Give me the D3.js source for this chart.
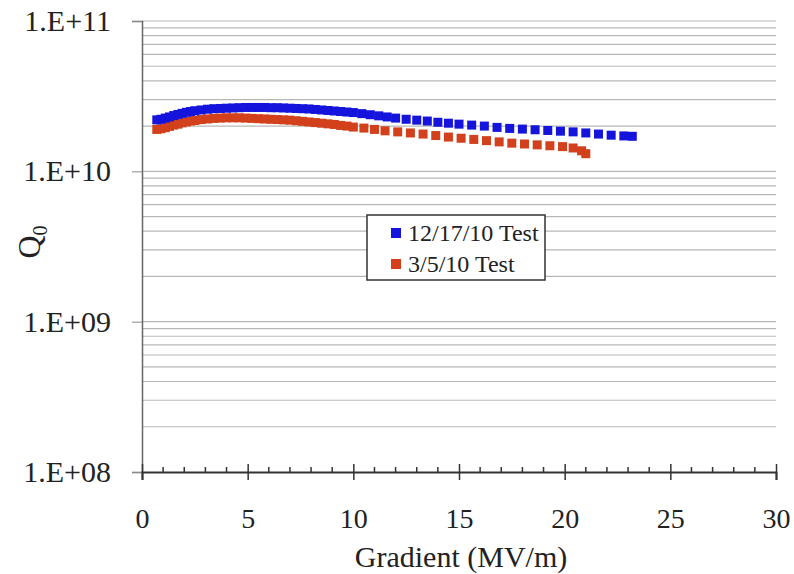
<!DOCTYPE html>
<html><head><meta charset="utf-8">
<script src="https://cdn.jsdelivr.net/npm/d3@7"></script>
<style>body{margin:0;background:#fff}svg text{font-family:"Liberation Serif","Tinos","Times New Roman","DejaVu Serif",serif !important}</style>
</head><body><svg id="c" width="794" height="574"></svg>
<script>
// Data (gradient MV/m, Q0 in units of 1E10)
const blueName = "12/17/10 Test";
const redName = "3/5/10 Test";
const blueX = [0.7,0.9,1.1,1.3,1.5,1.7,1.9,2.1,2.3,2.5,2.8,3.1,3.4,3.7,4.0,4.3,4.6,4.9,5.2,5.5,5.8,6.1,6.4,6.7,7.0,7.3,7.6,7.9,8.2,8.5,8.8,9.1,9.4,9.7,10.0,10.4,10.8,11.2,11.6,12.0,12.5,13.0,13.5,14.0,14.5,15.0,15.6,16.2,16.8,17.4,18.0,18.6,19.2,19.8,20.4,21.0,21.6,22.2,22.8,23.2];
const blueQ = [2.20,2.22,2.26,2.30,2.35,2.39,2.43,2.47,2.50,2.53,2.56,2.59,2.61,2.62,2.63,2.64,2.65,2.66,2.66,2.66,2.66,2.65,2.65,2.64,2.63,2.62,2.61,2.60,2.58,2.56,2.54,2.52,2.50,2.48,2.46,2.42,2.38,2.34,2.30,2.26,2.22,2.19,2.16,2.12,2.09,2.06,2.03,2.00,1.96,1.93,1.91,1.89,1.87,1.85,1.83,1.80,1.77,1.74,1.72,1.71];
const redX = [0.7,0.9,1.1,1.3,1.5,1.7,1.9,2.1,2.3,2.5,2.8,3.1,3.4,3.7,4.0,4.3,4.6,4.9,5.2,5.5,5.8,6.1,6.4,6.7,7.0,7.3,7.6,7.9,8.2,8.5,8.8,9.1,9.4,9.7,10.0,10.5,11.0,11.5,12.1,12.7,13.3,13.9,14.5,15.1,15.7,16.3,16.9,17.5,18.1,18.7,19.3,19.9,20.4,20.8,21.0];
const redQ = [1.90,1.92,1.95,1.99,2.03,2.06,2.10,2.13,2.16,2.18,2.21,2.23,2.25,2.26,2.27,2.27,2.27,2.26,2.25,2.24,2.23,2.22,2.21,2.20,2.19,2.17,2.15,2.13,2.11,2.09,2.07,2.05,2.02,2.00,1.97,1.94,1.90,1.86,1.83,1.80,1.77,1.73,1.69,1.66,1.63,1.60,1.57,1.54,1.52,1.50,1.48,1.46,1.43,1.37,1.31];
const xTicks = [0,5,10,15,20,25,30];
const yTicks = [1e8,1e9,1e10,1e11];
const yTickLabels = ["1.E+08","1.E+09","1.E+10","1.E+11"];

const FONT = '"Liberation Serif","Tinos","Times New Roman","DejaVu Serif",serif';
const svg = d3.select("#c");
const L = 142, R = 776, T = 21, B = 472;
const x = d3.scaleLinear().domain([0,30]).range([L,R]);
const y = d3.scaleLog().domain([1e8,1e11]).range([B,T]);

// minor + major gridlines
const grid = [];
for (let e = 8; e < 11; e++) for (let m = 1; m <= 9; m++) grid.push(m*Math.pow(10,e));
grid.push(1e11);
svg.append("g").selectAll("line").data(grid.filter(v=>v>1e8)).join("line")
  .attr("x1",L).attr("x2",R).attr("y1",d=>y(d)).attr("y2",d=>y(d))
  .attr("stroke","#b8b8b8").attr("stroke-width",1.2);

// y axis
const yAxis = d3.axisLeft(y).tickValues(yTicks).tickFormat((d,i)=>yTickLabels[i]).tickSize(10).tickPadding(21);
const gy = svg.append("g").attr("transform",`translate(${L},0)`).call(yAxis);
gy.select(".domain").attr("stroke","#666").attr("stroke-width",1.5);
gy.selectAll(".tick line").attr("stroke","#888");
gy.selectAll("text").attr("font-size",30).attr("fill","#222").style("font-family",FONT);

// x axis: minor ticks up, major cross
const minor = d3.range(0,31);
svg.append("g").selectAll("line").data(minor.filter(v=>v%5!==0)).join("line")
  .attr("x1",d=>x(d)).attr("x2",d=>x(d)).attr("y1",B).attr("y2",B-5)
  .attr("stroke","#333").attr("stroke-width",1.5);
const xAxis = d3.axisBottom(x).tickValues(xTicks).tickSize(8).tickPadding(28).tickFormat(d3.format("d"));
const gx = svg.append("g").attr("transform",`translate(0,${B})`).call(xAxis);
gx.select(".domain").attr("stroke","#333").attr("stroke-width",2);
gx.selectAll(".tick line").attr("y1",-8).attr("stroke","#333").attr("stroke-width",1.5);
gx.selectAll("text").attr("font-size",28).attr("fill","#222").style("font-family",FONT);

// axis titles
svg.append("text").attr("x",461).attr("y",567).attr("text-anchor","middle")
  .style("font-family",FONT).attr("font-size",30).attr("fill","#222").text("Gradient (MV/m)");
const yl = svg.append("text").attr("transform","translate(40,242) rotate(-90)").attr("text-anchor","middle")
  .style("font-family",FONT).attr("font-size",32).attr("fill","#222");
yl.append("tspan").text("Q");
yl.append("tspan").attr("font-size",20).attr("dy",7).text("0");

// data
const sz = 9;
function plot(xs, qs, color){
  svg.append("g").selectAll("rect").data(xs.map((v,i)=>[v,qs[i]*1e10])).join("rect")
    .attr("x",d=>x(d[0])-sz/2).attr("y",d=>y(d[1])-sz/2).attr("width",sz).attr("height",sz)
    .attr("fill",color);
}
plot(redX, redQ, "#d2401c");
plot(blueX, blueQ, "#1414dc");

// legend
const lg = svg.append("g");
lg.append("rect").attr("x",367).attr("y",215).attr("width",178).attr("height",65)
  .attr("fill","#fff").attr("stroke","#333").attr("stroke-width",1.5);
const items = [[blueName,"#1414dc",233],[redName,"#d2401c",264]];
items.forEach(([n,c,cy])=>{
  lg.append("rect").attr("x",391).attr("y",cy-5).attr("width",10).attr("height",10).attr("fill",c);
  lg.append("text").attr("x",408).attr("y",cy+8).style("font-family",FONT).attr("font-size",24).attr("fill","#222").text(n);
});
</script></body></html>
